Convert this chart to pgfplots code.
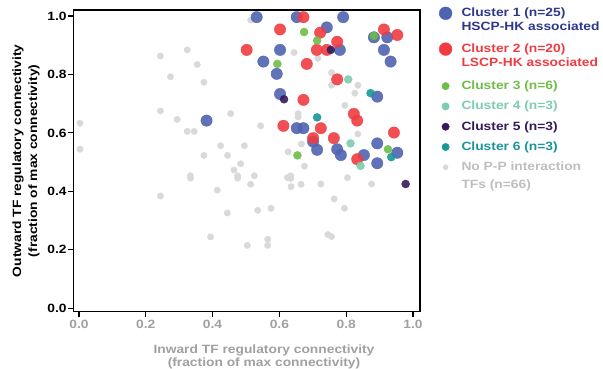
\documentclass[border=0pt]{standalone}
\usepackage{fontspec}
\setmainfont{Liberation Sans}
\usepackage{graphicx}
\usepackage{pgfplots}
\pgfplotsset{compat=1.18}
\definecolor{cA}{RGB}{79,99,176}
\definecolor{cAt}{RGB}{46,55,140}
\definecolor{cB}{RGB}{240,60,65}
\definecolor{cC}{RGB}{110,190,70}
\definecolor{cD}{RGB}{125,205,175}
\definecolor{cE}{RGB}{55,25,90}
\definecolor{cF}{RGB}{25,150,150}
\definecolor{cG}{RGB}{217,217,217}
\definecolor{cGt}{RGB}{190,190,190}
\definecolor{xg}{RGB}{160,160,160}
\newcommand\lf{\fontsize{12}{14}\selectfont\bfseries}
\newcommand\sx[1]{\scalebox{1.15}[1]{#1}}
\begin{document}
\begin{tikzpicture}
\useasboundingbox (-73.3pt,-56.3pt) rectangle (529.7pt,311.7pt);
\begin{axis}[
  at={(0,0)}, anchor=south west,
  scale only axis, width=346.7pt, height=301.7pt,
  xmin=-0.017, xmax=1.021, ymin=-0.012, ymax=1.0205,
  xtick={0,0.2,0.4,0.6,0.8,1.0}, ytick={0,0.2,0.4,0.6,0.8,1.0},
  xtick pos=bottom, ytick pos=left,
  tick align=outside, major tick length=5pt,
  every tick/.style={black, line width=1.2pt},
  axis line style={line width=1.5pt},
  /pgf/number format/fixed, /pgf/number format/fixed zerofill,
  /pgf/number format/precision=1, /pgf/number format/assume math mode=true,
  xticklabel={\sx{\pgfmathprintnumber{\tick}}},
  yticklabel={\sx{\pgfmathprintnumber{\tick}}},
  xticklabel style={text=xg, font=\lf},
  yticklabel style={font=\lf, inner sep=1.5pt},
  xlabel={\sx{Inward TF regulatory connectivity}\\\sx{(fraction of max connectivity)}},
  xlabel style={at={(axis description cs:0.55,-0.1499)}, anchor=center, align=center, text=xg, font=\fontsize{12}{13.3}\selectfont\bfseries, inner sep=0pt},
  ylabel={\sx{Outward TF regulatory connectivity}\\\sx{(fraction of max connectivity)}},
  ylabel style={at={(axis description cs:-0.1364,0.5)}, anchor=center, align=center, font=\fontsize{12}{16}\selectfont\bfseries, inner sep=0pt},
  legend style={at={(axis description cs:1.0554,1.0139)}, anchor=north west, draw=none, fill=none, inner sep=0pt, outer sep=0pt, row sep=0pt, column sep=9.5pt, font=\lf, nodes={inner sep=0pt}, cells={anchor=base west}},
  legend image code/.code={\draw[#1] plot coordinates {(0pt,3.5pt)};},
]
\addplot[only marks, mark=*, color=cG, mark size=3.2pt, forget plot] coordinates {
(0.003,0.633)(0.003,0.544)(0.244,0.863)(0.324,0.884)(0.354,0.834)(0.274,0.792)(0.374,0.773)(0.244,0.675)(0.294,0.646)(0.324,0.605)
(0.345,0.605)(0.454,0.666)(0.544,0.624)(0.424,0.556)(0.495,0.556)(0.374,0.523)(0.445,0.523)(0.484,0.494)(0.464,0.473)(0.334,0.453)
(0.334,0.445)(0.475,0.453)(0.475,0.445)(0.525,0.453)(0.514,0.424)(0.414,0.404)(0.244,0.384)(0.444,0.326)(0.394,0.244)(0.504,0.215)
(0.535,0.335)(0.575,0.342)(0.565,0.236)(0.565,0.215)(0.624,0.447)(0.634,0.453)(0.634,0.444)(0.635,0.416)(0.665,0.424)(0.724,0.425)
(0.626,0.535)(0.666,0.562)(0.675,0.486)(0.656,0.666)(0.656,0.654)(0.644,0.875)(0.514,0.986)(0.715,0.855)(0.756,0.806)(0.756,0.763)
(0.835,0.763)(0.826,0.736)(0.796,0.694)(0.835,0.596)(0.804,0.447)(0.876,0.425)(0.764,0.374)(0.795,0.342)(0.745,0.252)(0.756,0.245)};
\addplot[only marks, mark=*, color=cA, mark size=5.7pt, opacity=0.9, forget plot] coordinates {
(0.532,0.996)(0.652,0.996)(0.742,0.961)(0.791,0.996)(0.602,0.884)(0.552,0.844)(0.592,0.802)(0.602,0.733)(0.382,0.642)(0.652,0.616)
(0.672,0.616)(0.781,0.884)(0.883,0.927)(0.923,0.927)(0.913,0.884)(0.933,0.844)(0.893,0.724)(0.701,0.570)(0.713,0.542)(0.773,0.544)
(0.784,0.524)(0.853,0.524)(0.893,0.564)(0.953,0.532)(0.893,0.496)};
\addplot[only marks, mark=*, color=cB, mark size=5.7pt, opacity=0.9, forget plot] coordinates {
(0.672,0.996)(0.602,0.954)(0.722,0.943)(0.502,0.884)(0.712,0.884)(0.742,0.884)(0.773,0.912)(0.682,0.836)(0.913,0.954)(0.953,0.935)
(0.773,0.783)(0.672,0.713)(0.823,0.665)(0.833,0.642)(0.612,0.624)(0.724,0.616)(0.701,0.582)(0.763,0.582)(0.943,0.601)(0.833,0.510)};
\addplot[only marks, mark=*, color=cC, mark size=4pt, opacity=0.9, forget plot] coordinates {
(0.674,0.945)(0.713,0.916)(0.594,0.836)(0.883,0.932)(0.654,0.523)(0.925,0.544)};
\addplot[only marks, mark=*, color=cD, mark size=4pt, opacity=0.9, forget plot] coordinates {
(0.806,0.783)(0.813,0.564)(0.843,0.487)};
\addplot[only marks, mark=*, color=cE, mark size=4pt, opacity=0.9, forget plot] coordinates {
(0.754,0.884)(0.614,0.715)(0.978,0.425)};
\addplot[only marks, mark=*, color=cF, mark size=4pt, opacity=0.9, forget plot] coordinates {
(0.873,0.736)(0.713,0.653)(0.935,0.517)};
\addlegendimage{only marks, mark=*, color=cA, mark size=6.4pt}
\addlegendentry[text=cAt, text height=11pt, text depth=9.3pt]{\sx{Cluster 1 (n=25)}}
\addlegendimage{empty legend}
\addlegendentry[text=cAt, text height=4.7pt, text depth=10.8pt]{\sx{HSCP-HK associated}}
\addlegendimage{only marks, mark=*, color=cB, mark size=6.4pt}
\addlegendentry[text=cB, text height=11pt, text depth=9.3pt]{\sx{Cluster 2 (n=20)}}
\addlegendimage{empty legend}
\addlegendentry[text=cB, text height=4.7pt, text depth=12pt]{\sx{LSCP-HK associated}}
\addlegendimage{only marks, mark=*, color=cC, mark size=3.7pt}
\addlegendentry[text=cC, text height=11pt, text depth=9.3pt]{\sx{Cluster 3 (n=6)}}
\addlegendimage{only marks, mark=*, color=cD, mark size=3.7pt}
\addlegendentry[text=cD, text height=11pt, text depth=9.3pt]{\sx{Cluster 4 (n=3)}}
\addlegendimage{only marks, mark=*, color=cE, mark size=3.7pt}
\addlegendentry[text=cE, text height=11pt, text depth=9.3pt]{\sx{Cluster 5 (n=3)}}
\addlegendimage{only marks, mark=*, color=cF, mark size=3.7pt}
\addlegendentry[text=cF, text height=11pt, text depth=9.3pt]{\sx{Cluster 6 (n=3)}}
\addlegendimage{only marks, mark=*, color=cG, mark size=2.6pt}
\addlegendentry[text=cGt, text height=11pt, text depth=9.3pt]{\sx{No P-P interaction}}
\addlegendimage{empty legend}
\addlegendentry[text=cGt, text height=7.9pt, text depth=3pt]{\sx{TFs (n=66)}}
\end{axis}
\end{tikzpicture}
\end{document}
